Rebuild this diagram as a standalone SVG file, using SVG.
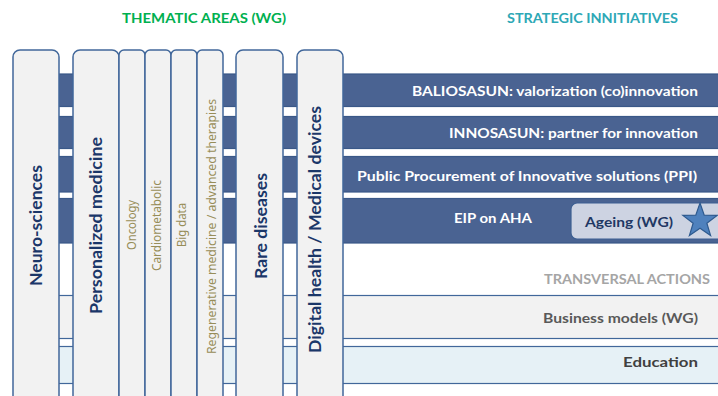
<svg xmlns="http://www.w3.org/2000/svg" width="718" height="396" viewBox="0 0 718 396">
  <style>
    text { font-family: Lato, "Open Sans", "Liberation Sans", sans-serif; font-weight: bold; }
    .bar { fill: #4A6392; stroke: #3A5888; stroke-width: 1.2; }
    .row-grey { fill: #F2F2F2; stroke: #41679A; stroke-width: 1.2; }
    .row-blue { fill: #E6F1F6; stroke: #41679A; stroke-width: 1.2; }
    .col { fill: #F2F2F2; stroke: #41679A; stroke-width: 1.5; }
    .bar-label { fill: #FFFFFF; font-size: 13.5px; }
    .col-label { fill: #1B3769; font-size: 17px; }
    .sub-label { fill: #978D58; font-size: 12px; font-family: "Noto Sans", "Open Sans", sans-serif; font-weight: normal; }
    .title { font-size: 14px; }
  </style>

  <rect x="0" y="0" width="718" height="396" fill="#FFFFFF"/>

  <!-- section headings -->
  <text class="title" x="122" y="23" fill="#00B050" textLength="164" lengthAdjust="spacingAndGlyphs">THEMATIC AREAS (WG)</text>
  <text class="title" x="507" y="23" fill="#2DA8B6" textLength="171" lengthAdjust="spacingAndGlyphs">STRATEGIC INNITIATIVES</text>

  <!-- strategic initiative bands, running behind the thematic columns -->
  <g id="baliosasun">
    <rect class="bar" x="20" y="74" width="720" height="32.5"/>
    <text class="bar-label" x="412" y="95.5" textLength="286" lengthAdjust="spacingAndGlyphs">BALIOSASUN: valorization (co)innovation</text>
  </g>
  <g id="innosasun">
    <rect class="bar" x="20" y="116.5" width="720" height="32"/>
    <text class="bar-label" x="449" y="137.5" textLength="249" lengthAdjust="spacingAndGlyphs">INNOSASUN: partner for innovation</text>
  </g>
  <g id="ppi">
    <rect class="bar" x="20" y="156.5" width="720" height="35.5"/>
    <text class="bar-label" x="357" y="181" textLength="340" lengthAdjust="spacingAndGlyphs">Public Procurement of Innovative solutions (PPI)</text>
  </g>
  <g id="eip-aha">
    <rect class="bar" x="20" y="198.5" width="720" height="44.5"/>
    <text class="bar-label" x="454" y="223" textLength="78" lengthAdjust="spacingAndGlyphs">EIP on AHA</text>
  </g>

  <!-- transversal actions -->
  <g id="transversal-actions">
    <text x="544" y="283.5" fill="#A5A5A5" font-size="13.5" textLength="166" lengthAdjust="spacingAndGlyphs">TRANSVERSAL ACTIONS</text>
  </g>
  <g id="business-models">
    <rect class="row-grey" x="20" y="295.5" width="720" height="43"/>
    <text x="543" y="322.7" fill="#595959" font-size="13.5" textLength="155" lengthAdjust="spacingAndGlyphs">Business models (WG)</text>
  </g>
  <g id="education">
    <rect class="row-blue" x="20" y="346.5" width="720" height="37"/>
    <text x="623" y="367" fill="#404040" font-size="13.5" textLength="75" lengthAdjust="spacingAndGlyphs">Education</text>
  </g>

  <!-- thematic area columns -->
  <g id="neuro-sciences">
    <rect class="col" x="13" y="50" width="46" height="380" rx="7"/>
    <text class="col-label" transform="translate(42 286) rotate(-90)" textLength="121" lengthAdjust="spacingAndGlyphs">Neuro-sciences</text>
  </g>
  <g id="personalized-medicine">
    <rect class="col" x="73" y="50" width="46" height="380" rx="7"/>
    <text class="col-label" transform="translate(102 314) rotate(-90)" textLength="177" lengthAdjust="spacingAndGlyphs">Personalized medicine</text>
  </g>
  <g id="oncology">
    <rect class="col" x="119" y="50" width="26" height="380" rx="5"/>
    <text class="sub-label" transform="translate(136 250) rotate(-90)" textLength="50" lengthAdjust="spacingAndGlyphs">Oncology</text>
  </g>
  <g id="cardiometabolic">
    <rect class="col" x="145" y="50" width="26" height="380" rx="5"/>
    <text class="sub-label" transform="translate(161 271) rotate(-90)" textLength="91" lengthAdjust="spacingAndGlyphs">Cardiometabolic</text>
  </g>
  <g id="big-data">
    <rect class="col" x="171" y="50" width="26" height="380" rx="5"/>
    <text class="sub-label" transform="translate(186 247) rotate(-90)" textLength="44" lengthAdjust="spacingAndGlyphs">Big data</text>
  </g>
  <g id="regenerative-medicine">
    <rect class="col" x="197" y="50" width="26" height="380" rx="5"/>
    <text class="sub-label" transform="translate(216 354) rotate(-90)" textLength="255" lengthAdjust="spacingAndGlyphs">Regenerative medicine / advanced therapies</text>
  </g>
  <g id="rare-diseases">
    <rect class="col" x="236" y="50" width="47" height="380" rx="7"/>
    <text class="col-label" transform="translate(266.5 279) rotate(-90)" textLength="106" lengthAdjust="spacingAndGlyphs">Rare diseases</text>
  </g>
  <g id="digital-health">
    <rect class="col" x="297" y="50" width="46" height="380" rx="7"/>
    <text class="col-label" transform="translate(321 353) rotate(-90)" textLength="247" lengthAdjust="spacingAndGlyphs">Digital health / Medical devices</text>
  </g>

  <!-- ageing working group inside the EIP band -->
  <g id="ageing">
    <rect x="571" y="203" width="170" height="36" rx="6" fill="#CDD3E2" stroke="#3D5F92" stroke-width="1.2"/>
    <text x="585" y="227" fill="#1F3864" font-size="13.5" textLength="88" lengthAdjust="spacingAndGlyphs">Ageing (WG)</text>
    <path d="M700,203 L704.23,215.18 L717.12,215.44 L706.85,223.22 L710.58,235.56 L700,228.2 L689.42,235.56 L693.15,223.22 L682.88,215.44 L695.77,215.18 Z" fill="#4F81BD" stroke="#2E5A8F" stroke-width="1.2" stroke-linejoin="miter"/>
  </g>

  <g id="connectors"/>
</svg>
